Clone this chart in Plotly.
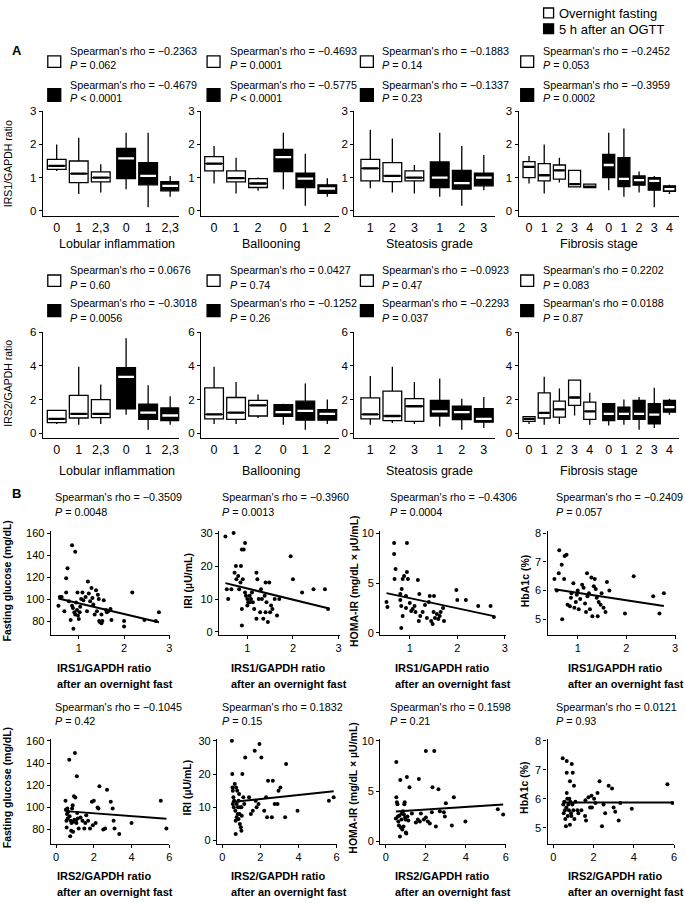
import plotly.graph_objects as go

W, H = 685, 903
FONT = "Liberation Sans, Arial, Helvetica, sans-serif"

# ---------------- Panel A: box statistics ----------------
lob_ticks = ["0", "1", "2,3", "0", "1", "2,3"]
bal_ticks = ["0", "1", "2", "0", "1", "2"]
ste_ticks = ["1", "2", "3", "1", "2", "3"]
fib_ticks = ["0", "1", "2", "3", "4", "0", "1", "2", "3", "4"]
a_titles = ["Lobular inflammation", "Ballooning", "Steatosis grade", "Fibrosis stage"]

# IRS1 / GAPDH (first half: overnight fasting, second half: 5 h after OGTT)
irs1_lob_low = [1.20, 0.50, 0.55, 0.65, 0.10, 0.42]
irs1_lob_q1 = [1.25, 0.85, 0.87, 0.97, 0.78, 0.60]
irs1_lob_med = [1.35, 1.12, 1.00, 1.58, 1.05, 0.75]
irs1_lob_q3 = [1.55, 1.50, 1.17, 1.88, 1.45, 0.88]
irs1_lob_high = [2.00, 2.20, 1.40, 2.35, 2.35, 1.05]

irs1_bal_low = [0.82, 0.52, 0.60, 0.65, 0.15, 0.42]
irs1_bal_q1 = [1.20, 0.87, 0.70, 1.18, 0.70, 0.52]
irs1_bal_med = [1.42, 0.98, 0.82, 1.62, 0.97, 0.67]
irs1_bal_q3 = [1.63, 1.20, 0.97, 1.85, 1.13, 0.78]
irs1_bal_high = [1.95, 1.60, 1.00, 2.35, 1.72, 0.98]

irs1_ste_low = [0.68, 0.55, 0.52, 0.42, 0.15, 0.62]
irs1_ste_q1 = [0.90, 0.88, 0.90, 0.70, 0.65, 0.75]
irs1_ste_med = [1.28, 1.05, 1.00, 1.00, 0.83, 1.00]
irs1_ste_q3 = [1.55, 1.45, 1.20, 1.47, 1.22, 1.13]
irs1_ste_high = [2.44, 2.18, 1.38, 2.35, 1.95, 1.68]

irs1_fib_low = [0.82, 0.52, 0.85, 0.72, 0.68, 0.62, 0.42, 0.55, 0.10, 0.50]
irs1_fib_q1 = [1.00, 0.90, 0.95, 0.72, 0.70, 1.00, 0.73, 0.77, 0.62, 0.58]
irs1_fib_med = [1.32, 1.07, 1.22, 0.80, 0.72, 1.38, 0.96, 0.92, 0.90, 0.65]
irs1_fib_q3 = [1.48, 1.42, 1.38, 1.22, 0.80, 1.70, 1.60, 1.05, 1.00, 0.75]
irs1_fib_high = [1.65, 2.00, 1.60, 1.22, 0.80, 2.35, 2.48, 1.18, 1.05, 0.78]

# IRS2 / GAPDH
irs2_lob_low = [0.55, 0.50, 0.55, 1.10, 0.20, 0.50]
irs2_lob_q1 = [0.62, 0.90, 0.92, 1.45, 0.82, 0.75]
irs2_lob_med = [0.85, 1.15, 1.15, 3.35, 1.22, 1.05]
irs2_lob_q3 = [1.35, 2.25, 2.00, 3.90, 1.72, 1.50]
irs2_lob_high = [1.35, 3.95, 2.90, 5.65, 2.85, 2.20]

irs2_bal_low = [0.55, 0.55, 0.90, 0.50, 0.20, 0.55]
irs2_bal_q1 = [0.85, 0.82, 1.02, 1.00, 0.77, 0.77]
irs2_bal_med = [1.12, 1.22, 1.65, 1.25, 1.32, 1.15]
irs2_bal_q3 = [2.70, 2.12, 1.95, 1.70, 1.90, 1.40]
irs2_bal_high = [3.95, 3.05, 2.30, 1.75, 2.95, 2.00]

irs2_ste_low = [0.50, 0.60, 0.55, 0.40, 0.20, 0.30]
irs2_ste_q1 = [0.85, 0.75, 0.70, 1.02, 0.80, 0.65]
irs2_ste_med = [1.12, 1.02, 1.60, 1.30, 1.25, 0.85]
irs2_ste_q3 = [2.10, 2.50, 2.05, 1.95, 1.60, 1.45]
irs2_ste_high = [3.40, 3.95, 3.05, 3.25, 2.05, 2.15]

irs2_fib_low = [0.55, 0.50, 0.55, 1.05, 0.50, 0.45, 0.50, 0.20, 0.30, 1.10]
irs2_fib_q1 = [0.70, 0.90, 0.95, 1.65, 0.82, 0.75, 0.82, 0.82, 0.55, 1.25]
irs2_fib_med = [0.85, 1.20, 1.42, 2.12, 1.30, 1.15, 1.15, 1.15, 1.10, 1.55]
irs2_fib_q3 = [0.98, 2.40, 1.90, 3.15, 1.85, 1.75, 1.55, 1.95, 1.75, 1.95]
irs2_fib_high = [1.00, 3.35, 2.65, 3.15, 2.40, 1.75, 2.00, 2.15, 2.70, 2.05]

irs1_rho_fast = ["−0.2363", "−0.4693", "−0.1883", "−0.2452"]
irs1_p_fast = ["= 0.062", "= 0.0001", "= 0.14", "= 0.053"]
irs1_rho_ogtt = ["−0.4679", "−0.5775", "−0.1337", "−0.3959"]
irs1_p_ogtt = ["< 0.0001", "< 0.0001", "= 0.23", "= 0.0002"]
irs2_rho_fast = ["0.0676", "0.0427", "−0.0923", "0.2202"]
irs2_p_fast = ["= 0.60", "= 0.74", "= 0.47", "= 0.083"]
irs2_rho_ogtt = ["−0.3018", "−0.1252", "−0.2293", "0.0188"]
irs2_p_ogtt = ["= 0.0056", "= 0.26", "= 0.037", "= 0.87"]

# ---------------- Panel B: scatter data ----------------
b1_glu_x = [0.55, 0.58, 0.62, 0.68, 0.72, 0.75, 0.72, 0.78, 0.82, 0.85, 0.85, 0.87, 0.88, 0.90, 0.92, 0.92, 0.94, 0.96, 0.97, 0.98,
            1.00, 1.02, 1.03, 1.05, 1.08, 1.10, 1.15, 1.18, 1.20, 1.22, 1.25, 1.28, 1.30, 1.32, 1.35, 1.38, 1.40, 1.42, 1.44, 1.45,
            1.47, 1.50, 1.50, 1.52, 1.55, 1.60, 1.62, 1.65, 1.70, 1.72, 2.00, 2.00, 2.18, 2.45, 2.70, 2.77]
b1_glu_y = [94, 102, 102, 89, 119, 128, 106, 98, 81, 149, 94, 92, 73, 88, 143, 86, 97, 90, 106, 85,
            82, 88, 93, 100, 106, 99, 102, 89, 116, 105, 98, 110, 101, 95, 86, 108, 89, 104, 100, 80,
            79, 86, 78, 80, 99, 90, 88, 89, 91, 81, 75, 80, 106, 81, 80, 88]
b1_iri_x = [0.52, 0.55, 0.58, 0.65, 0.70, 0.72, 0.75, 0.76, 0.80, 0.82, 0.85, 0.86, 0.88, 0.88, 0.88, 0.90, 0.92, 0.95, 0.95, 0.97,
            1.00, 1.00, 1.02, 1.05, 1.05, 1.08, 1.10, 1.12, 1.15, 1.20, 1.20, 1.22, 1.25, 1.28, 1.30, 1.32, 1.35, 1.38, 1.40, 1.40,
            1.42, 1.45, 1.48, 1.50, 1.52, 1.55, 1.60, 1.65, 1.70, 1.95, 2.00, 2.20, 2.45, 2.70, 2.77]
b1_iri_y = [29, 13, 10, 13, 30, 18, 20, 16, 17, 13, 15, 20, 25, 7, 2, 16, 25, 27, 12, 11,
            10, 8, 9, 11, 9, 10, 12, 9, 7, 18, 4, 16, 10, 6, 13, 10, 4, 11, 15, 6,
            9, 3, 15, 6, 8, 7, 10, 5, 10, 23, 16, 12, 13, 13, 7]
b1_homa_x = [0.51, 0.53, 0.67, 0.67, 0.70, 0.68, 0.80, 0.83, 0.85, 0.80, 0.82, 0.82, 0.85, 0.88, 0.94, 0.94, 0.92, 0.92, 0.96, 1.00,
             1.03, 1.06, 1.10, 1.12, 1.17, 1.20, 1.19, 1.22, 1.27, 1.32, 1.36, 1.40, 1.42, 1.45, 1.48, 1.50, 1.51, 1.53, 1.57, 1.60,
             1.63, 1.65, 1.70, 1.72, 1.98, 2.00, 2.18, 2.44, 2.70, 2.77]
b1_homa_y = [3.1, 2.6, 9.0, 7.9, 6.4, 5.4, 3.9, 4.4, 5.4, 3.3, 2.7, 0.5, 1.7, 5.7, 6.1, 9.0, 3.7, 2.5, 5.4, 3.0,
             2.2, 2.4, 2.7, 2.1, 5.3, 3.9, 1.2, 1.7, 2.1, 2.8, 1.5, 3.1, 3.7, 1.2, 0.9, 2.1, 3.7, 1.5, 1.9, 1.4,
             1.7, 2.1, 2.5, 1.2, 4.3, 3.3, 3.3, 2.7, 2.7, 1.6]
b1_hba_x = [0.52, 0.57, 0.61, 0.62, 0.67, 0.68, 0.73, 0.72, 0.77, 0.79, 0.84, 0.87, 0.86, 0.91, 0.93, 0.96, 0.98, 1.00, 1.02, 1.05,
            1.09, 1.12, 1.15, 1.17, 1.19, 1.20, 1.23, 1.25, 1.28, 1.30, 1.33, 1.35, 1.37, 1.39, 1.41, 1.43, 1.47, 1.49, 1.53, 1.57,
            1.60, 1.65, 1.97, 2.15, 2.55, 2.68, 2.77]
b1_hba_y = [6.4, 6.0, 6.6, 7.4, 6.9, 5.0, 7.2, 6.4, 7.25, 5.5, 5.45, 5.9, 5.75, 6.25, 5.4, 5.6, 5.85, 6.0, 5.35, 5.7,
            6.2, 6.1, 5.55, 5.25, 6.6, 5.8, 5.9, 5.35, 6.45, 5.1, 6.15, 6.4, 6.05, 5.75, 5.1, 5.6, 5.5, 5.9, 5.4, 5.25,
            6.3, 6.0, 5.2, 6.5, 5.8, 5.2, 5.9]

b2_glu_x = [0.50, 0.52, 0.55, 0.56, 0.58, 0.60, 0.62, 0.65, 0.70, 0.72, 0.75, 0.78, 0.80, 0.82, 0.85, 0.88, 0.90, 0.92, 0.95, 0.97,
            1.00, 1.02, 1.05, 1.08, 1.10, 1.12, 1.15, 1.20, 1.30, 1.40, 1.50, 1.55, 1.60, 1.70, 1.80, 1.90, 1.95, 2.00, 2.10, 2.20,
            2.25, 2.30, 2.50, 2.60, 2.70, 2.90, 3.00, 3.05, 3.10, 3.35, 4.00, 5.55, 5.85]
b2_glu_y = [106, 98, 88, 82, 94, 99, 90, 96, 143, 92, 74, 88, 79, 86, 99, 102, 78, 87, 110, 89,
            149, 109, 88, 86, 128, 95, 90, 81, 91, 88, 81, 86, 93, 88, 81, 105, 84, 106, 86, 100,
            99, 119, 80, 81, 116, 105, 99, 88, 81, 76, 86, 106, 81]
b2_iri_x = [0.50, 0.52, 0.53, 0.55, 0.55, 0.58, 0.60, 0.62, 0.65, 0.68, 0.70, 0.70, 0.72, 0.75, 0.75, 0.78, 0.80, 0.82, 0.85, 0.85,
            0.88, 0.90, 0.92, 0.95, 0.97, 1.00, 1.00, 1.02, 1.05, 1.10, 1.15, 1.20, 1.40, 1.50, 1.60, 1.70, 1.75, 1.80, 1.90, 1.95,
            2.05, 2.20, 2.30, 2.35, 2.40, 2.60, 2.65, 2.75, 2.90, 2.95, 3.05, 3.30, 3.35, 3.95, 5.60, 5.85]
b2_iri_y = [30, 20, 16, 15, 11, 13, 10, 12, 17, 9, 6, 2, 16, 11, 7, 15, 8, 10, 12, 6.5,
            14, 8, 5, 10, 4, 10, 3, 7.5, 20, 13, 11, 25, 13, 8, 9, 27, 12, 10, 11, 29,
            25, 9, 13, 7, 18, 7, 18, 11, 11, 15, 16, 7, 23, 9, 12, 13]
b2_homa_x = [0.50, 0.52, 0.52, 0.55, 0.58, 0.60, 0.62, 0.65, 0.68, 0.70, 0.72, 0.75, 0.78, 0.80, 0.82, 0.85, 0.88, 0.90, 0.92, 0.94,
             0.96, 0.98, 1.00, 1.02, 1.05, 1.08, 1.12, 1.18, 1.30, 1.50, 1.60, 1.65, 1.70, 1.75, 1.90, 2.00, 2.00, 2.10, 2.20, 2.30,
             2.33, 2.42, 2.50, 2.63, 2.70, 2.90, 2.95, 3.00, 3.30, 3.40, 3.98, 5.60, 5.87]
b2_homa_y = [2.3, 7.9, 4.4, 3.9, 3.7, 2.5, 2.0, 1.6, 2.6, 0.5, 6.1, 1.4, 2.2, 2.8, 1.2, 3.0, 1.5, 2.7, 3.7, 3.9,
             2.4, 2.2, 0.9, 0.8, 6.4, 2.5, 2.1, 5.4, 2.8, 1.9, 2.2, 6.2, 2.0, 2.8, 2.2, 9.0, 2.4, 2.0, 1.8, 2.9,
             5.4, 9.0, 1.5, 5.2, 3.0, 2.9, 2.5, 3.8, 1.6, 4.4, 2.0, 3.2, 2.7]
b2_hba_x = [0.47, 0.50, 0.52, 0.55, 0.58, 0.60, 0.63, 0.65, 0.67, 0.67, 0.67, 0.70, 0.72, 0.75, 0.78, 0.80, 0.83, 0.83, 0.85, 0.88,
            0.90, 0.92, 0.95, 0.97, 1.00, 1.03, 1.05, 1.10, 1.20, 1.25, 1.40, 1.58, 1.60, 1.63, 1.75, 1.83, 1.90, 1.92, 2.03, 2.10,
            2.20, 2.30, 2.42, 2.50, 2.58, 2.75, 2.92, 3.00, 3.08, 3.25, 3.33, 3.90, 5.67, 5.92]
b2_hba_y = [7.4, 5.8, 5.5, 5.9, 5.6, 5.3, 5.05, 5.7, 7.3, 6.9, 6.2, 6.0, 5.4, 5.8, 5.6, 6.0, 6.6, 5.1, 5.9, 5.5,
            5.4, 7.2, 5.8, 6.9, 5.6, 6.45, 5.3, 5.9, 5.6, 5.5, 5.6, 5.4, 5.95, 5.25, 6.05, 5.7, 6.1, 5.7, 6.0, 5.85,
            6.2, 6.6, 5.05, 5.8, 5.5, 6.45, 6.35, 5.7, 5.55, 5.25, 5.85, 5.65, 6.5, 5.85]

# regression lines (slope, intercept)
b1_fit_slope = [-9.7, -3.4, -1.02, -0.26]
b1_fit_icpt = [105.8, 16.6, 4.51, 6.18]
b2_fit_slope = [-1.27, 0.6, 0.13, 0.0]
b2_fit_icpt = [97.3, 11.3, 2.92, 5.87]

b1_rho = ["−0.3509", "−0.3960", "−0.4306", "−0.2409"]
b1_p = ["0.0048", "0.0013", "0.0004", "0.057"]
b2_rho = ["−0.1045", "0.1832", "0.1598", "0.0121"]
b2_p = ["0.42", "0.15", "0.21", "0.93"]

b_ytitles = ["Fasting glucose (mg/dL)", "IRI (µU/mL)", "HOMA-IR (mg/dL × µU/mL)", "HbA1c (%)"]
b_yranges = [[67.4, 161.8], [-0.9, 30.6], [-0.2, 10.2], [4.45, 8.07]]
b_yticks = [[80, 100, 120, 140, 160], [0, 10, 20, 30], [0, 5, 10], [5, 6, 7, 8]]

# ---------------- figure construction ----------------
fig = go.Figure()
axes = {}
annotations = []
shapes = []
TXT = 10.75


def add_axes(i, L, R, T, B, xrange, yrange, xtv, xtt, ytv, xfs, yfs, xticks="outside"):
    xn = "xaxis" if i == 1 else f"xaxis{i}"
    yn = "yaxis" if i == 1 else f"yaxis{i}"
    xa = "x" if i == 1 else f"x{i}"
    ya = "y" if i == 1 else f"y{i}"
    common = dict(showline=True, linecolor="black", linewidth=1.3, ticklen=3,
                  tickwidth=1.2, tickcolor="black", showgrid=False, zeroline=False, fixedrange=True)
    axes[xn] = dict(common, ticks=xticks, domain=[L / W, R / W], range=xrange, anchor=ya, tickmode="array",
                    tickvals=xtv, ticktext=xtt, tickfont=dict(size=xfs, color="black", family=FONT))
    axes[yn] = dict(common, ticks="outside", domain=[1 - B / H, 1 - T / H], range=yrange, anchor=xa,
                    tickmode="array", tickvals=ytv, tickfont=dict(size=yfs, color="black", family=FONT))
    return xa, ya


def ann(text, x, y, size=TXT, xanchor="left", angle=0):
    annotations.append(dict(text=text, x=x / W, y=1 - y / H, xref="paper", yref="paper", showarrow=False,
                            xanchor=xanchor, yanchor="middle", textangle=angle,
                            font=dict(size=size, family=FONT, color="black")))


def square(x0, y0, x1, y1, fill):
    shapes.append(dict(type="rect", xref="paper", yref="paper", x0=x0 / W, x1=x1 / W,
                       y0=1 - y1 / H, y1=1 - y0 / H, line=dict(color="black", width=1.3), fillcolor=fill))


a_rows = [
    dict(stats=[(irs1_lob_low, irs1_lob_q1, irs1_lob_med, irs1_lob_q3, irs1_lob_high),
                (irs1_bal_low, irs1_bal_q1, irs1_bal_med, irs1_bal_q3, irs1_bal_high),
                (irs1_ste_low, irs1_ste_q1, irs1_ste_med, irs1_ste_q3, irs1_ste_high),
                (irs1_fib_low, irs1_fib_q1, irs1_fib_med, irs1_fib_q3, irs1_fib_high)],
         T=106.5, B=212, yrange=[-0.15, 3.0], yticks=[0, 1, 2, 3], ytitle="IRS1/GAPDH ratio", ytitle_y=159,
         rf=irs1_rho_fast, pf=irs1_p_fast, ro=irs1_rho_ogtt, po=irs1_p_ogtt,
         lines=[45, 60, 80, 93.3], wsq=(50.5, 62), bsq=(83.5, 96.5), xtitle_y=241),
    dict(stats=[(irs2_lob_low, irs2_lob_q1, irs2_lob_med, irs2_lob_q3, irs2_lob_high),
                (irs2_bal_low, irs2_bal_q1, irs2_bal_med, irs2_bal_q3, irs2_bal_high),
                (irs2_ste_low, irs2_ste_q1, irs2_ste_med, irs2_ste_q3, irs2_ste_high),
                (irs2_fib_low, irs2_fib_q1, irs2_fib_med, irs2_fib_q3, irs2_fib_high)],
         T=330, B=437, yrange=[-0.3, 6.0], yticks=[0, 2, 4, 6], ytitle="IRS2/GAPDH ratio", ytitle_y=381,
         rf=irs2_rho_fast, pf=irs2_p_fast, ro=irs2_rho_ogtt, po=irs2_p_ogtt,
         lines=[266.7, 281.7, 300, 315], wsq=(272, 283.5), bsq=(302, 314), xtitle_y=470),
]
a_ticks = [lob_ticks, bal_ticks, ste_ticks, fib_ticks]
# (left px, right px, x range, gap between groups, box width)
a_xgeom = [(43, 180, [-0.63, 5.56], 0.15, 0.85), (202, 340, [-0.59, 5.66], 0.15, 0.85),
           (356, 497, [-0.72, 5.65], 0.15, 0.85), (521, 682, [-0.68, 9.88], 0.25, 0.79)]
a_sq_x = [48, 208, 362, 523]
a_txt_x = [68, 229, 382, 543]
a_title_x = [118, 272, 431, 602]

idx = 0
for row in a_rows:
    for p in range(4):
        idx += 1
        L, R, xr, gap, bw = a_xgeom[p]
        ticks = a_ticks[p]
        n = len(ticks)
        half = n // 2
        pos = [i + (gap if i >= half else 0.0) for i in range(n)]
        xa, ya = add_axes(idx, L, R, row["T"], row["B"], xr, row["yrange"], pos, ticks,
                          row["yticks"], 12.5, 11.5, xticks="")
        low, q1, med, q3, high = row["stats"][p]
        for sl, fill, mcol in [(slice(0, half), "white", "black"), (slice(half, n), "black", "white")]:
            fig.add_trace(go.Box(x=pos[sl], q1=q1[sl], median=med[sl], q3=q3[sl],
                                 lowerfence=low[sl], upperfence=high[sl], width=bw, whiskerwidth=0,
                                 fillcolor=fill, line=dict(color="black", width=1.3), boxpoints=False,
                                 hoverinfo="skip", showlegend=False, xaxis=xa, yaxis=ya))
            mx, my = [], []
            for pp, mm in zip(pos[sl], med[sl]):
                mx += [pp - 0.42 * bw, pp + 0.42 * bw, None]
                my += [mm, mm, None]
            fig.add_trace(go.Scatter(x=mx, y=my, mode="lines", line=dict(color=mcol, width=2.3),
                                     hoverinfo="skip", showlegend=False, xaxis=xa, yaxis=ya))
        l1, l2, l3, l4 = row["lines"]
        square(a_sq_x[p], row["wsq"][0], a_sq_x[p] + 13, row["wsq"][1], "white")
        square(a_sq_x[p], row["bsq"][0], a_sq_x[p] + 13, row["bsq"][1], "black")
        ann("Spearman's rho = " + row["rf"][p], a_txt_x[p], l1)
        ann("<i>P</i> " + row["pf"][p], a_txt_x[p], l2)
        ann("Spearman's rho = " + row["ro"][p], a_txt_x[p], l3)
        ann("<i>P</i> " + row["po"][p], a_txt_x[p], l4)
        ann(a_titles[p], a_title_x[p], row["xtitle_y"], size=12.5, xanchor="center")
    ann(row["ytitle"], 8, row["ytitle_y"], size=10.5, xanchor="center", angle=-90)

# Panel B
b_rows = [
    dict(xs=[b1_glu_x, b1_iri_x, b1_homa_x, b1_hba_x], ys=[b1_glu_y, b1_iri_y, b1_homa_y, b1_hba_y],
         slope=b1_fit_slope, icpt=b1_fit_icpt, rho=b1_rho, p=b1_p, T=531, B=636,
         xgeom=[(51, 171), (220, 341), (382, 508), (550, 679)], xrange=[0.38, 3.02], xticks=[1, 2, 3],
         xlabel="IRS1/GAPDH ratio", lines=[496, 512], xt=[669, 686], yt=581),
    dict(xs=[b2_glu_x, b2_iri_x, b2_homa_x, b2_hba_x], ys=[b2_glu_y, b2_iri_y, b2_homa_y, b2_hba_y],
         slope=b2_fit_slope, icpt=b2_fit_icpt, rho=b2_rho, p=b2_p, T=741, B=847,
         xgeom=[(51, 170), (218, 338), (382, 508), (550, 677)], xrange=[-0.28, 6.0], xticks=[0, 2, 4, 6],
         xlabel="IRS2/GAPDH ratio", lines=[709, 723], xt=[880, 896], yt=790),
]
b_txt_x = [53, 221, 390, 556]
b_ytitle_x = [7, 188, 355, 527]
b_xtitle_x = [55, 230, 395, 568]

for row in b_rows:
    for p in range(4):
        idx += 1
        L, R = row["xgeom"][p]
        xa, ya = add_axes(idx, L, R, row["T"], row["B"], row["xrange"], b_yranges[p],
                          row["xticks"], [str(t) for t in row["xticks"]], b_yticks[p], 11, 11)
        xs, ys = row["xs"][p], row["ys"][p]
        fig.add_trace(go.Scatter(x=xs, y=ys, mode="markers", marker=dict(color="black", size=4),
                                 hoverinfo="skip", showlegend=False, xaxis=xa, yaxis=ya))
        x0, x1 = min(xs), max(xs)
        fig.add_trace(go.Scatter(x=[x0, x1],
                                 y=[row["icpt"][p] + row["slope"][p] * x0, row["icpt"][p] + row["slope"][p] * x1],
                                 mode="lines", line=dict(color="black", width=2),
                                 hoverinfo="skip", showlegend=False, xaxis=xa, yaxis=ya))
        ann("Spearman's rho = " + row["rho"][p], b_txt_x[p], row["lines"][0])
        ann("<i>P</i> = " + row["p"][p], b_txt_x[p], row["lines"][1])
        ann("<b>" + b_ytitles[p] + "</b>", b_ytitle_x[p], row["yt"], size=10.5, xanchor="center", angle=-90)
        ann("<b>" + row["xlabel"] + "</b>", b_xtitle_x[p], row["xt"][0], size=11)
        ann("<b>after an overnight fast</b>", b_xtitle_x[p], row["xt"][1], size=11)

# panel letters and legend
ann("<b>A</b>", 17, 45, size=13, xanchor="center")
ann("<b>B</b>", 17, 493, size=13, xanchor="center")
square(546, 2, 556, 12, "white")
square(546, 18, 556, 28, "black")
ann("Overnight fasting", 559, 7.3, size=13)
ann("5 h after an OGTT", 559, 23.3, size=13)

fig.update_layout(width=W, height=H, margin=dict(l=0, r=0, t=0, b=0), paper_bgcolor="white",
                  plot_bgcolor="white", boxmode="overlay", showlegend=False,
                  font=dict(family=FONT, color="black"), annotations=annotations, shapes=shapes, **axes)

fig.write_html("out.html", config={"displayModeBar": False},
               post_script="document.body.style.margin='0';document.body.style.padding='0';"
                           "document.documentElement.style.overflow='hidden';")
